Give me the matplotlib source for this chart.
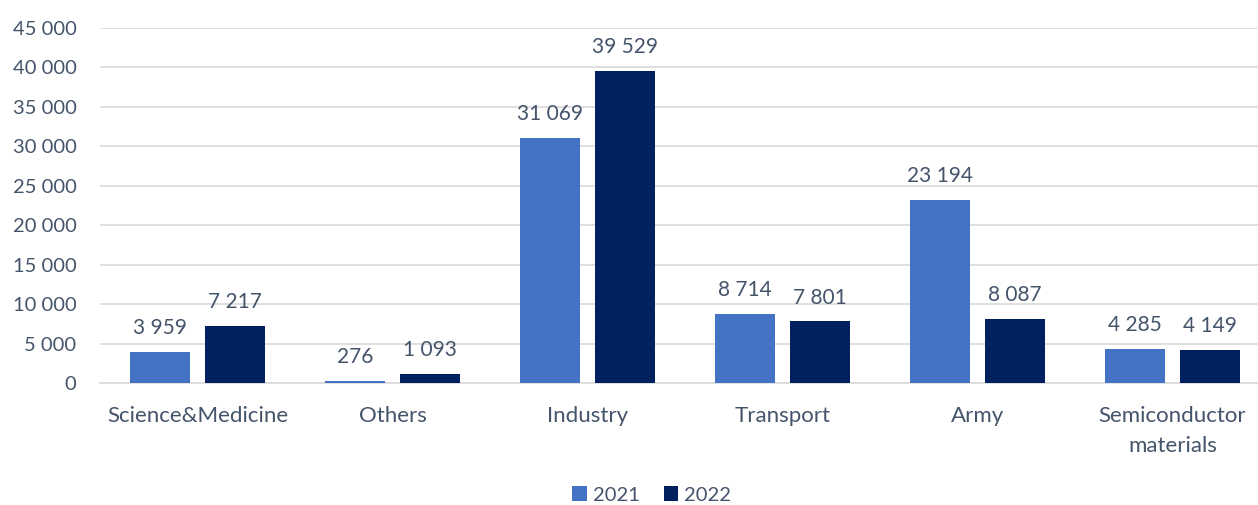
import matplotlib
matplotlib.use('Agg')
from matplotlib import pyplot as plt
import numpy as np

categorias = ['Science&Medicine', 'Others', 'Industry', 'Transport', 'Army', 'Semiconductor\nmaterials']
anios = ['2021', '2022']
valores2021 = [3959, 276, 31069, 8714, 23194, 4285]
valores2022 = [7217, 1093, 39529, 7801, 8087, 4149]

colores = ['#4472C4', '#002060']
colorTexto = '#44546A'

plt.rcParams['font.family'] = ['Lato', 'DejaVu Sans']

def formato(v):
	return '{:,}'.format(v).replace(',', ' ')

fig = plt.figure(figsize=(12.58, 5.05), dpi=100)
ax = fig.add_axes([100 / 1258, 122 / 505, 1158 / 1258, 355 / 505])

x = np.arange(len(categorias))
ancho = 0.308
desplazamiento = 0.192

barras1 = ax.bar(x - desplazamiento, valores2021, ancho, color=colores[0], label=anios[0], zorder=3)
barras2 = ax.bar(x + desplazamiento, valores2022, ancho, color=colores[1], label=anios[1], zorder=3)

for barras in [barras1, barras2]:
	for b in barras:
		v = b.get_height()
		ax.annotate(formato(int(v)), (b.get_x() + b.get_width() / 2, v),
			xytext=(0, 10), textcoords='offset points', ha='center', va='bottom',
			fontsize=15, color=colorTexto)

ax.set_ylim(0, 45000)
ax.set_xlim(-0.5, -0.5 + 1158 / 195)
ax.set_yticks(np.arange(0, 45001, 5000))
ax.set_yticklabels([formato(v) for v in range(0, 45001, 5000)])
ax.set_xticks(x)
ax.set_xticklabels(categorias, linespacing=1.6)

ax.tick_params(axis='y', length=0, pad=17, labelsize=14.5, labelcolor=colorTexto)
ax.tick_params(axis='x', length=0, pad=16.5, labelsize=16, labelcolor=colorTexto)

ax.grid(axis='y', color='#D9D9D9', linewidth=1.2, zorder=0)
for lado in ['top', 'right', 'left']:
	ax.spines[lado].set_visible(False)
ax.spines['bottom'].set_color('#D9D9D9')
ax.spines['bottom'].set_linewidth(1.2)

fig.legend(loc='center', bbox_to_anchor=(0.518, 1 - 495 / 505), ncol=2, frameon=False,
	fontsize=14.5, labelcolor=colorTexto, handlelength=0.7, handleheight=0.7,
	handletextpad=0.3, columnspacing=1.2)

fig.savefig('out.png', dpi=100)
